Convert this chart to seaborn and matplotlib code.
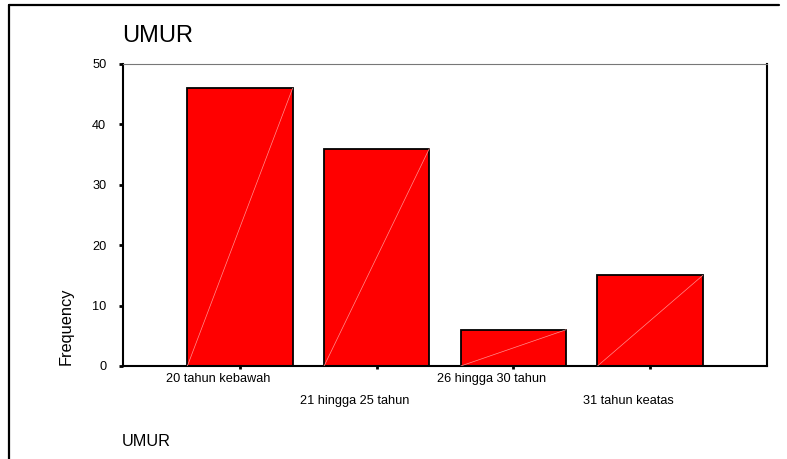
import matplotlib
matplotlib.use("Agg")
import matplotlib.pyplot as plt
import matplotlib.transforms as mtransforms
from matplotlib.lines import Line2D
import seaborn as sns
import pandas as pd

categories = ["20 tahun kebawah", "21 hingga 25 tahun", "26 hingga 30 tahun", "31 tahun keatas"]
frequency = [46, 36, 6, 15]
y_ticks = [0, 10, 20, 30, 40, 50]
title = "UMUR"
x_title = "UMUR"
y_title = "Frequency"

sns.set_style("white")
plt.rcParams['font.family'] = ['Liberation Sans', 'DejaVu Sans']
plt.rcParams['text.color'] = 'black'
plt.rcParams['xtick.color'] = 'black'
plt.rcParams['ytick.color'] = 'black'

W, H = 787, 459
fig = plt.figure(figsize=(W / 100, H / 100), dpi=100)
ax = fig.add_axes([123 / W, 1 - 366 / H, 644 / W, 302 / H])

df = pd.DataFrame({"cat": categories, "freq": frequency})
bar_w = 0.77
sns.barplot(data=df, x="cat", y="freq", color="#ff0000", saturation=1,
            edgecolor="black", linewidth=1.3, width=bar_w, ax=ax)

# thin diagonal highlight in each bar (derived from bar geometry)
for p in ax.patches:
    x0, w, h = p.get_x(), p.get_width(), p.get_height()
    ax.plot([x0, x0 + w], [0, h], color="#ff9090", lw=0.5, zorder=5)

ax.set_xlim(-0.856, 3.855)
ax.set_ylim(0, 50)
ax.set_yticks(y_ticks)
ax.set_yticklabels([str(v) for v in y_ticks], fontsize=9.2, color="black")
ax.tick_params(axis='y', direction='out', length=3, width=2, pad=9, left=True, color='black')
ax.set_xticks(range(len(categories)))
ax.set_xticklabels([])
ax.tick_params(axis='x', direction='out', length=2.5, width=2, bottom=True, color='black')
ax.set_xlabel("")
ax.set_ylabel("")

for s in ["left", "bottom", "right"]:
    ax.spines[s].set_color("black")
    ax.spines[s].set_linewidth(1.5)
ax.spines["top"].set_color("#777777")
ax.spines["top"].set_linewidth(0.8)

# staggered category labels
for i, lab in enumerate(categories):
    dy = -13 if i % 2 == 0 else -35
    off = mtransforms.ScaledTranslation(-22 / 100, dy / 100, fig.dpi_scale_trans)
    tr = mtransforms.blended_transform_factory(ax.transData, ax.transAxes) + off
    ax.text(i, 0, lab, transform=tr, ha="center", va="center", fontsize=9.2, color="black")

fig.text(122 / W, 1 - 36 / H, title, fontsize=17, ha="left", va="center", color="black")
fig.text(66 / W, 1 - 326 / H, y_title, fontsize=11.8, rotation=90, ha="center", va="center",
         color="black")
fig.text(122 / W, 1 - 441 / H, x_title, fontsize=11.7, ha="left", va="center", color="black")

# outer frame (top and left)
fig.add_artist(Line2D([9 / W, 779 / W], [1 - 5 / H, 1 - 5 / H], color="black", lw=1.6,
                      transform=fig.transFigure))
fig.add_artist(Line2D([9 / W, 9 / W], [0, 1 - 5 / H], color="black", lw=1.6,
                      transform=fig.transFigure))

fig.savefig("out.png", dpi=100)
